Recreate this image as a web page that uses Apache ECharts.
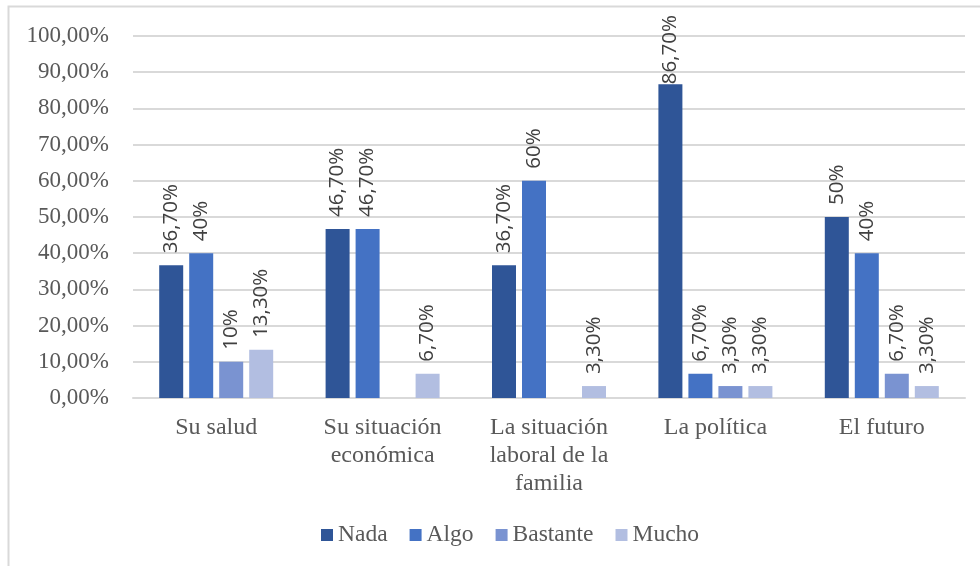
<!DOCTYPE html>
<html>
<head>
<meta charset="utf-8">
<script src="https://cdn.jsdelivr.net/npm/echarts@6/dist/echarts.min.js"></script>
<style>
  html, body { margin: 0; padding: 0; background: #fff; }
  #chart { width: 980px; height: 566px; }
</style>
</head>
<body>
<div id="chart"></div>
<script>
// Categories and series values (percent)
const categories = ['Su salud', 'Su situación\neconómica', 'La situación\nlaboral de la\nfamilia', 'La política', 'El futuro'];
const seriesNames = ['Nada', 'Algo', 'Bastante', 'Mucho'];
const nada = [36.7, 46.7, 36.7, 86.7, 50];
const algo = [40, 46.7, 60, 6.7, 40];
const bastante = [10, null, null, 3.3, 6.7];
const mucho = [13.3, 6.7, 3.3, 3.3, 3.3];
const colors = ['#2F5597', '#4472C4', '#7A93D1', '#B2BEE1'];

const serif = '"Liberation Serif", "Times New Roman", serif';
const sans = '"Open Sans", "Liberation Sans", sans-serif';

// Data labels: integers without decimals, others with two decimals and a comma
function fmtLabel(v) {
  if (v == null) return '';
  if (Math.round(v) === v) return v + '%';
  return v.toFixed(2).replace('.', ',') + '%';
}

// Tall bars leave no room above the plot, so their labels sit right on the bar
function toItems(arr) {
  return arr.map(v => (v != null && v > 80)
    ? { value: v, label: { distance: 0 } }
    : v);
}

const seriesData = [nada, algo, bastante, mucho];
const series = seriesData.map((d, i) => ({
  name: seriesNames[i],
  type: 'bar',
  data: toItems(d),
  barWidth: 24,
  barGap: '25%',
  itemStyle: { color: colors[i] },
  label: {
    show: true,
    position: 'top',
    rotate: 90,
    align: 'left',
    verticalAlign: 'middle',
    distance: 12,
    fontFamily: sans,
    fontSize: 20.5,
    color: '#404040',
    formatter: p => fmtLabel(p.value)
  }
}));

const chart = echarts.init(document.getElementById('chart'));
chart.setOption({
  animation: false,
  color: colors,
  grid: { left: 133, right: 15, top: 36, bottom: 168, containLabel: false },
  graphic: [{
    type: 'rect',
    shape: { x: 8.5, y: 6.5, width: 1000, height: 600 },
    style: { fill: 'none', stroke: '#d9d9d9', lineWidth: 2 },
    silent: true
  }],
  legend: {
    bottom: 14,
    left: 316,
    itemWidth: 12,
    itemHeight: 12,
    itemGap: 22,
    icon: 'rect',
    textStyle: { fontFamily: serif, fontSize: 23.5, color: '#595959' },
    data: seriesNames
  },
  xAxis: {
    type: 'category',
    data: categories,
    axisLine: { lineStyle: { color: '#d9d9d9', width: 2 } },
    axisTick: { show: false },
    axisLabel: {
      interval: 0,
      margin: 16,
      fontFamily: serif,
      fontSize: 24,
      lineHeight: 28,
      color: '#595959'
    }
  },
  yAxis: {
    type: 'value',
    min: 0,
    max: 100,
    interval: 10,
    axisLine: { show: false },
    axisTick: { show: false },
    splitLine: { lineStyle: { color: '#d9d9d9', width: 2 } },
    axisLabel: {
      margin: 24,
      fontFamily: serif,
      fontSize: 23,
      color: '#595959',
      formatter: v => v.toFixed(2).replace('.', ',') + '%'
    }
  },
  series: series
});
</script>
</body>
</html>
